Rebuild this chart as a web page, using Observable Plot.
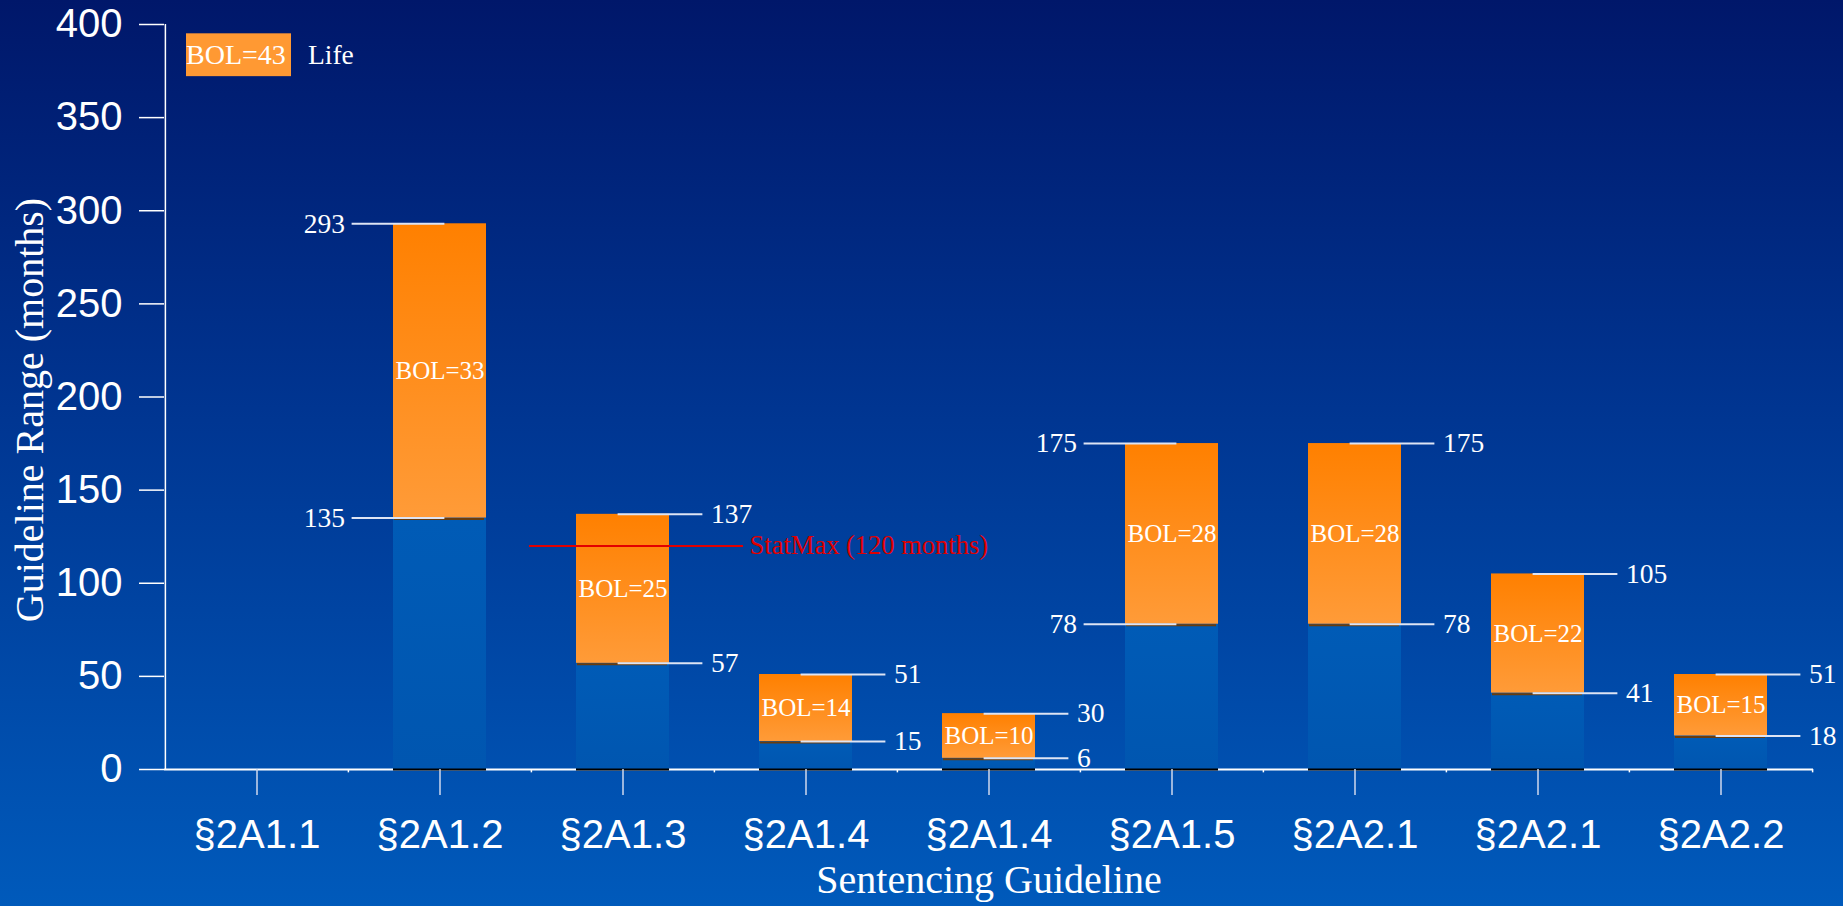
<!DOCTYPE html>
<html>
<head>
<meta charset="utf-8">
<script src="https://cdn.jsdelivr.net/npm/d3@7"></script>
<script src="https://cdn.jsdelivr.net/npm/@observablehq/plot@0.6"></script>
<style>
  html, body { margin: 0; padding: 0; overflow: hidden; background: #003a96; }
  #chart svg { display: block; }
</style>
</head>
<body>
<div id="chart"></div>
<script>
// ---- data ----
const categories = ["§2A1.1", "§2A1.2", "§2A1.3", "§2A1.4", "§2A1.4", "§2A1.5", "§2A2.1", "§2A2.1", "§2A2.2"];
const lowValues  = [null, 135, 57, 15, 6, 78, 78, 41, 18];
const highValues = [null, 293, 137, 51, 30, 175, 175, 105, 51];
const bolValues  = [43, 33, 25, 14, 10, 28, 28, 22, 15];
const labelSide  = ["", "left", "right", "right", "right", "left", "right", "right", "right"];
const yTicks = [0, 50, 100, 150, 200, 250, 300, 350, 400];
const statMax = 120;
const statMaxLabel = "StatMax (120 months)";
const lifeLabel = "Life";
const lifeBox = [372, 395]; // off-scale "Life" box, drawn near the top of the axis

// ---- layout ----
const W = 1843, H = 906;
const mL = 164, mR = 30, mT = 24, mB = 137;
const band = (W - mL - mR) / categories.length;
const half = band / 2;
const barInset = 45;

const keys = categories.map((_, i) => i);
const rows = keys.map(i => ({k: i, cat: categories[i], low: lowValues[i], high: highValues[i], bol: bolValues[i], side: labelSide[i]}));
const bars = rows.filter(d => d.low != null);
const labelRows = bars.flatMap(d => [{k: d.k, v: d.high, side: d.side}, {k: d.k, v: d.low, side: d.side}]);
const leftRows = labelRows.filter(d => d.side === "left");
const rightRows = labelRows.filter(d => d.side === "right");

const serif = "Liberation Serif, Times New Roman, serif";
const sans = "Liberation Sans, Arial, sans-serif";
const lineColor = "#dde4f4";

const plot = Plot.plot({
  width: W, height: H,
  marginLeft: mL, marginRight: mR, marginTop: mT, marginBottom: mB,
  style: {background: "linear-gradient(to bottom, #00176a 0%, #003591 45%, #005abb 100%)", color: "white", overflow: "visible"},
  x: {type: "band", domain: keys, padding: 0},
  y: {domain: [0, 400]},
  marks: [
    // axis lines
    Plot.ruleY([0], {stroke: "white", strokeWidth: 2}),
    Plot.ruleX([0], {x: d => d, y1: 0, y2: 400, dx: -half, stroke: "white", strokeWidth: 1.5}),
    // small ticks at category boundaries
    Plot.ruleX(keys.slice(1), {x: d => d, y1: 0, y2: -1.8, dx: -half, stroke: "white", strokeWidth: 1.5}),
    Plot.ruleX([keys[keys.length - 1]], {x: d => d, y1: 0, y2: -1.8, dx: half, stroke: "white", strokeWidth: 1.5}),
    // blue (lower) segments
    Plot.barY(bars, {x: "k", y1: 0, y2: "low", fill: "url(#blueGrad)", insetLeft: barInset, insetRight: barInset}),
    // orange (range) segments
    Plot.barY(bars, {x: "k", y1: "low", y2: "high", fill: "url(#orangeGrad)", insetLeft: barInset, insetRight: barInset}),
    Plot.tickY(bars, {x: "k", y: 0, stroke: "black", strokeWidth: 2, insetLeft: barInset, insetRight: barInset}),
    Plot.tickY(bars, {x: "k", y: "low", stroke: "#6a3c0c", strokeWidth: 2, insetLeft: barInset + 1, insetRight: barInset + 2, dy: 1}),
    // value label leader lines
    Plot.tickY(rightRows, {x: "k", y: "v", stroke: lineColor, strokeWidth: 2, insetLeft: half - 5, insetRight: half - 80}),
    Plot.tickY(leftRows, {x: "k", y: "v", stroke: lineColor, strokeWidth: 2, insetLeft: half - 88, insetRight: half - 5}),
    Plot.text(rightRows, {x: "k", y: "v", text: d => String(d.v), dx: 88, textAnchor: "start", fill: "white", fontSize: 27.5, fontFamily: serif}),
    Plot.text(leftRows, {x: "k", y: "v", text: d => String(d.v), dx: -95, textAnchor: "end", fill: "white", fontSize: 27.5, fontFamily: serif}),
    // BOL labels
    Plot.text(bars, {x: "k", y: d => (d.low + d.high) / 2, text: d => "BOL=" + d.bol, fill: "white", fontSize: 25, fontFamily: serif}),
    // statutory maximum
    Plot.tickY([statMax], {x: () => 2, y: d => d, stroke: "#e30000", strokeWidth: 2, insetLeft: -2, insetRight: -29}),
    Plot.text([statMaxLabel], {x: () => 2, y: () => statMax, text: d => d, dx: half + 35, textAnchor: "start", fill: "#e00000", fontSize: 26.5, fontFamily: serif}),
    // Life (off-scale) box for §2A1.1
    Plot.barY([rows[0]], {x: "k", y1: lifeBox[0], y2: lifeBox[1], fill: "#ff9933", insetLeft: 21, insetRight: 57}),
    Plot.text([rows[0]], {x: "k", y: (lifeBox[0] + lifeBox[1]) / 2, text: d => "BOL=" + d.bol, dx: -71, textAnchor: "start", fill: "white", fontSize: 28, fontFamily: serif}),
    Plot.text([lifeLabel], {x: () => 0, y: (lifeBox[0] + lifeBox[1]) / 2, text: d => d, dx: 51, textAnchor: "start", fill: "white", fontSize: 27.5, fontFamily: serif}),
    // axes
    Plot.axisY({ticks: yTicks, tickSize: 25, tickPadding: 17, fontSize: 40, fontFamily: sans, label: null, stroke: "white", strokeWidth: 1.5}),
    Plot.axisX({tickSize: 26, tickPadding: 24, fontSize: 40, fontFamily: sans, tickFormat: i => categories[i], label: null, stroke: "#cfd8ee", strokeWidth: 1.5}),
    // axis titles
    Plot.text(["Guideline Range (months)"], {frameAnchor: "left", text: d => d, rotate: -90, textAnchor: "middle", lineAnchor: "middle", dx: -134, dy: 13, fill: "white", fontSize: 40, fontFamily: serif}),
    Plot.text(["Sentencing Guideline"], {frameAnchor: "bottom", text: d => d, textAnchor: "middle", lineAnchor: "middle", dy: 111, fill: "white", fontSize: 40, fontFamily: serif})
  ]
});

// gradient definitions for the bars
const svgSel = d3.select(plot);
const defs = svgSel.insert("defs", ":first-child");
const grad = defs.append("linearGradient").attr("id", "orangeGrad").attr("x1", 0).attr("y1", 0).attr("x2", 0).attr("y2", 1);
grad.append("stop").attr("offset", "0%").attr("stop-color", "#ff8000");
grad.append("stop").attr("offset", "100%").attr("stop-color", "#ff9b38");
const bgrad = defs.append("linearGradient").attr("id", "blueGrad").attr("x1", 0).attr("y1", 0).attr("x2", 0).attr("y2", 1);
bgrad.append("stop").attr("offset", "0%").attr("stop-color", "#005bb6");
bgrad.append("stop").attr("offset", "100%").attr("stop-color", "#0056b0");

document.getElementById("chart").appendChild(plot);
</script>
</body>
</html>
